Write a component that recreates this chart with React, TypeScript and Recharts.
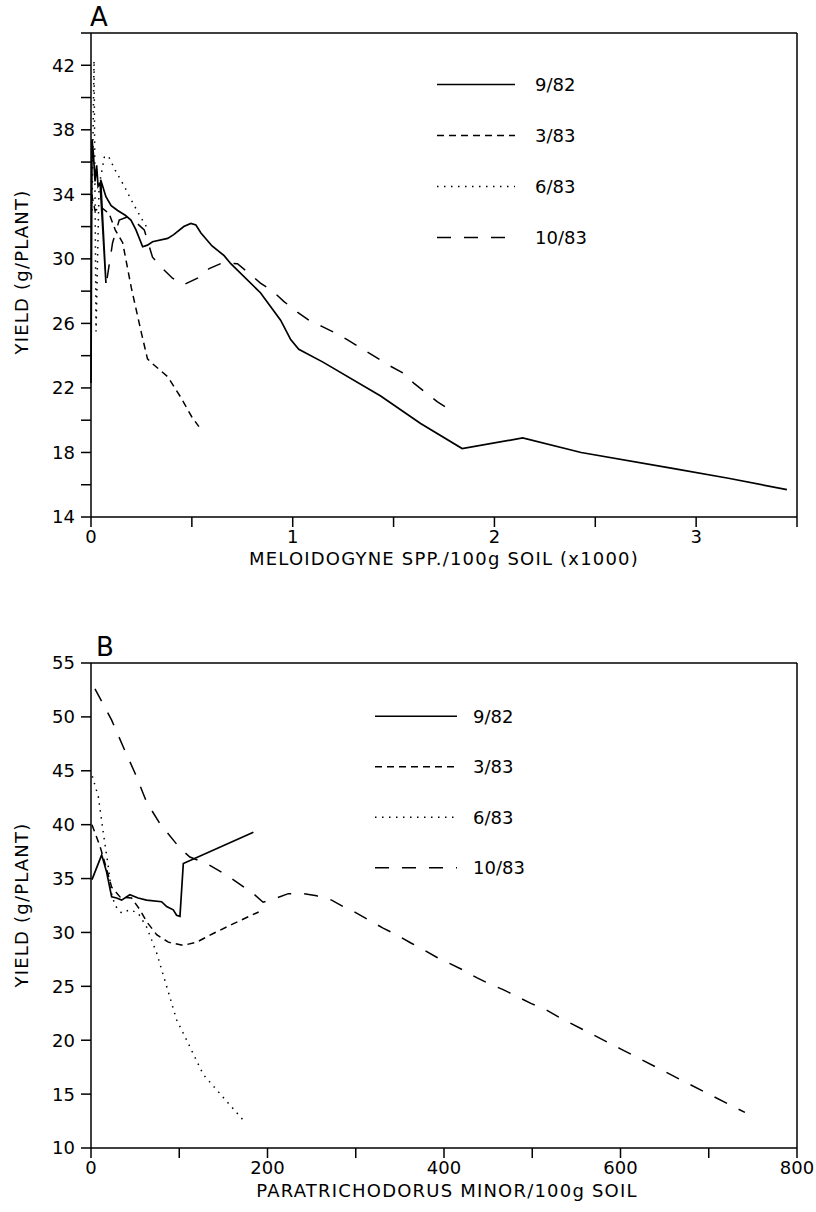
import { LineChart, Line, XAxis, YAxis, ReferenceLine } from 'recharts';

const FONT = '"DejaVu Sans", "Liberation Sans", sans-serif';

const seriesNames = ['9/82', '3/83', '6/83', '10/83'];
const seriesDash = ['', '7 5', '1.5 5.5', '14 13'];

// Panel A: Meloidogyne spp. (x1000) vs yield
const meloTicksX = [0, 0.5, 1, 1.5, 2, 2.5, 3, 3.5];
const meloTicksY = [14, 16, 18, 20, 22, 24, 26, 28, 30, 32, 34, 36, 38, 40, 42, 44];

const melo982: [number, number][] = [
  [0, 22.3], [0.005, 37.4], [0.012, 36.5], [0.02, 34.8], [0.028, 35.8], [0.035, 34.5],
  [0.045, 34.7], [0.074, 28.5], [0.048, 34.9], [0.074, 33.85], [0.1, 33.3], [0.132, 33.0],
  [0.17, 32.7], [0.198, 32.4], [0.223, 31.8], [0.256, 30.75], [0.28, 30.85], [0.305, 31.06],
  [0.38, 31.27], [0.41, 31.5], [0.46, 32.0], [0.495, 32.2], [0.52, 32.1], [0.545, 31.6],
  [0.6, 30.8], [0.66, 30.2], [0.693, 29.7], [0.84, 27.9], [0.94, 26.2], [0.99, 25.0],
  [1.03, 24.4], [1.15, 23.6], [1.436, 21.5], [1.634, 19.8], [1.84, 18.24], [2.14, 18.9],
  [2.43, 18.0], [2.89, 17.0], [3.16, 16.4], [3.45, 15.7],
];
const melo383: [number, number][] = [
  [0.003, 34.0], [0.02, 33.0], [0.05, 33.2], [0.09, 32.8], [0.12, 31.8], [0.157, 31.0],
  [0.2, 28.2], [0.25, 25.4], [0.28, 23.8], [0.305, 23.5], [0.38, 22.7], [0.446, 21.4],
  [0.5, 20.2], [0.535, 19.6],
];
const melo683: [number, number][] = [
  [0.005, 33.0], [0.015, 42.3], [0.025, 25.5], [0.04, 34.5], [0.066, 36.3], [0.085, 36.4],
  [0.12, 35.5], [0.165, 34.5], [0.21, 33.4], [0.264, 32.2], [0.285, 31.8],
];
const melo1083: [number, number][] = [
  [0.08, 28.8], [0.107, 31.0], [0.14, 32.4], [0.18, 32.6], [0.22, 32.3], [0.264, 31.8],
  [0.305, 30.1], [0.347, 29.5], [0.404, 28.8], [0.46, 28.4], [0.528, 28.8], [0.586, 29.4],
  [0.652, 29.75], [0.726, 29.7], [0.784, 29.1], [0.84, 28.5], [0.9, 28.0], [0.957, 27.35],
  [1.023, 26.7], [1.08, 26.2], [1.147, 25.8], [1.213, 25.4], [1.27, 25.0], [1.477, 23.4],
  [1.55, 22.9], [1.6, 22.3], [1.66, 21.7], [1.716, 21.15], [1.766, 20.75],
];

// Panel B: Paratrichodorus minor vs yield
const paraTicksX = [0, 100, 200, 300, 400, 500, 600, 700, 800];
const paraTicksY = [10, 15, 20, 25, 30, 35, 40, 45, 50, 55];

const para982: [number, number][] = [
  [1.1, 34.9], [12.1, 37.2], [17.7, 35.6], [23.4, 33.3], [29, 33.2], [34.7, 33.0],
  [44, 33.5], [53.4, 33.2], [63, 33.0], [80, 32.85], [85.7, 32.4], [93.2, 32.1],
  [97, 31.6], [100.8, 31.5], [104.6, 36.4], [184, 39.3],
];
const para383: [number, number][] = [
  [1.1, 40.0], [10.2, 38.0], [15.9, 36.4], [23.4, 34.2], [32.8, 33.3], [46, 33.2],
  [55.5, 32.1], [63, 31.0], [74.4, 29.8], [87.6, 29.1], [104.6, 28.8], [119.7, 29.1],
  [138.5, 29.9], [161, 30.8], [182, 31.6], [190, 31.9],
];
const para683: [number, number][] = [
  [1.5, 44.5], [8.3, 42.6], [14, 39.2], [19.6, 36.1], [23.4, 33.6], [27.2, 32.5],
  [34.7, 31.8], [44, 32.1], [53.4, 31.8], [63, 30.5], [74.4, 28.1], [85.7, 25.0],
  [97, 21.9], [112, 19.4], [127.3, 16.8], [174.5, 12.4],
];
const para1083: [number, number][] = [
  [4.5, 52.6], [23.4, 49.7], [36.6, 47.2], [49.8, 44.8], [63, 42.1], [78, 40.1],
  [101, 37.8], [112, 37.0], [131, 36.4], [154, 35.3], [184, 33.6], [195, 32.8],
  [210.4, 33.2], [223.6, 33.6], [240.6, 33.6], [255.7, 33.4], [272.7, 33.0], [285.9, 32.4],
  [301, 31.8], [316, 31.1], [331, 30.4], [346, 29.8], [363, 29.0], [376.5, 28.4],
  [391.7, 27.7], [406.8, 27.1], [421.9, 26.5], [437, 25.8], [452, 25.2], [467, 24.7],
  [484, 24.0], [499, 23.4], [516, 22.8], [531, 22.1], [600, 19.2], [700, 15.0], [741, 13.3],
];

const toPoints = (arr: [number, number][]) => arr.map(([x, y]) => ({ x, y }));

const tickStyle = { fill: '#000', fontSize: 18, fontFamily: FONT };
const axisLine = { stroke: '#000', strokeWidth: 1.5 };

function Legend({ left, top, lineLen, gap, rowGap }: { left: number; top: number; lineLen: number; gap: number; rowGap: number }) {
  return (
    <svg
      width={lineLen + gap + 80}
      height={rowGap * 4}
      style={{ position: 'absolute', left, top: top - rowGap / 2 }}
    >
      {seriesNames.map((name, i) => {
        const y = rowGap / 2 + i * rowGap;
        return (
          <g key={name}>
            <line x1={0} x2={lineLen} y1={y} y2={y} stroke="#000" strokeWidth={1.5} strokeDasharray={seriesDash[i]} />
            <text x={lineLen + gap} y={y} dominantBaseline="central" fontSize={18} fontFamily={FONT} fill="#000">
              {name}
            </text>
          </g>
        );
      })}
    </svg>
  );
}

function Panel({
  series, ticksX, ticksY, domainX, domainY, fmtX, fmtY, height, margin,
}: {
  series: [number, number][][];
  ticksX: number[];
  ticksY: number[];
  domainX: [number, number];
  domainY: [number, number];
  fmtX: (v: number) => string;
  fmtY: (v: number) => string;
  height: number;
  margin: { top: number; right: number; bottom: number; left: number };
}) {
  return (
    <LineChart width={816} height={height} margin={margin}>
      <XAxis
        type="number"
        dataKey="x"
        domain={domainX}
        ticks={ticksX}
        interval={0}
        tickFormatter={fmtX}
        tickSize={10}
        tickMargin={3}
        tick={tickStyle}
        axisLine={axisLine}
        tickLine={axisLine}
        height={30}
      />
      <YAxis
        type="number"
        domain={domainY}
        ticks={ticksY}
        interval={0}
        tickFormatter={fmtY}
        tickSize={10}
        tickMargin={6}
        tick={tickStyle}
        axisLine={axisLine}
        tickLine={axisLine}
        width={91}
      />
      <ReferenceLine y={domainY[1]} stroke="#000" strokeWidth={1.5} />
      <ReferenceLine x={domainX[1]} stroke="#000" strokeWidth={1.5} />
      {series.map((s, i) => (
        <Line
          key={seriesNames[i]}
          data={toPoints(s)}
          dataKey="y"
          type="linear"
          stroke="#000"
          strokeWidth={i === 0 ? 1.7 : 1.5}
          strokeDasharray={seriesDash[i]}
          dot={false}
          activeDot={false}
          isAnimationActive={false}
        />
      ))}
    </LineChart>
  );
}

const textBase: React.CSSProperties = {
  position: 'absolute',
  fontFamily: FONT,
  color: '#000',
  whiteSpace: 'nowrap',
  lineHeight: 1,
};

export default function App() {
  return (
    <div style={{ position: 'absolute', left: 0, top: 0, width: 816, height: 1212, background: '#fff' }}>
      <div style={{ position: 'absolute', left: 0, top: 0 }}>
        <Panel
          series={[melo982, melo383, melo683, melo1083]}
          ticksX={meloTicksX}
          ticksY={meloTicksY}
          domainX={[0, 3.5]}
          domainY={[14, 44]}
          fmtX={(v) => (Number.isInteger(v) ? String(v) : '')}
          fmtY={(v) => ((v - 14) % 4 === 0 && v < 44 ? String(v) : '')}
          height={580}
          margin={{ top: 33, right: 19, bottom: 33, left: 0 }}
        />
      </div>
      <div style={{ position: 'absolute', left: 0, top: 600 }}>
        <Panel
          series={[para982, para383, para683, para1083]}
          ticksX={paraTicksX}
          ticksY={paraTicksY}
          domainX={[0, 800]}
          domainY={[10, 55]}
          fmtX={(v) => (v % 200 === 0 ? String(v) : '')}
          fmtY={(v) => String(v)}
          height={600}
          margin={{ top: 63, right: 19, bottom: 22, left: 0 }}
        />
      </div>

      <Legend left={437} top={84} lineLen={78} gap={20} rowGap={51} />
      <Legend left={375} top={716} lineLen={82} gap={16} rowGap={50.5} />

      <div style={{ ...textBase, left: 90, top: 4, fontSize: 26 }}>A</div>
      <div style={{ ...textBase, left: 96, top: 634, fontSize: 26 }}>B</div>

      <div style={{ ...textBase, left: 444, top: 559, fontSize: 18, letterSpacing: 1.2, transform: 'translate(-50%, -50%)' }}>
        MELOIDOGYNE SPP./100g SOIL (x1000)
      </div>
      <div style={{ ...textBase, left: 447, top: 1191, fontSize: 18, letterSpacing: 1.2, transform: 'translate(-50%, -50%)' }}>
        PARATRICHODORUS MINOR/100g SOIL
      </div>

      <div style={{ ...textBase, left: 22, top: 272, fontSize: 18, letterSpacing: 1.2, transform: 'translate(-50%, -50%) rotate(-90deg)' }}>
        YIELD (g/PLANT)
      </div>
      <div style={{ ...textBase, left: 22, top: 905, fontSize: 18, letterSpacing: 1.2, transform: 'translate(-50%, -50%) rotate(-90deg)' }}>
        YIELD (g/PLANT)
      </div>
    </div>
  );
}
